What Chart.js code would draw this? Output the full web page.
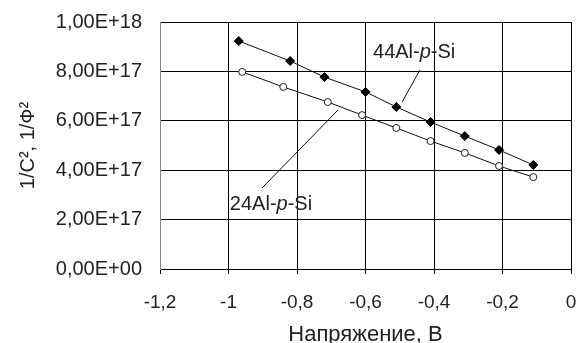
<!DOCTYPE html>
<html><head><meta charset="utf-8">
<script src="https://cdn.jsdelivr.net/npm/chart.js@4"></script>
<style>html,body{margin:0;padding:0;background:#fff}#wrap{width:579px;height:343px}</style>
</head><body><div id="wrap"><canvas id="c" width="579" height="343"></canvas></div>
<script>
const xTickLabels = ['-1,2','-1','-0,8','-0,6','-0,4','-0,2','0'];
const yTickLabels = ['0,00E+00','2,00E+17','4,00E+17','6,00E+17','8,00E+17','1,00E+18'];
const x44 = [-0.97,-0.82,-0.72,-0.60,-0.51,-0.41,-0.31,-0.21,-0.11];
const y44 = [9.23e17,8.42e17,7.77e17,7.17e17,6.56e17,5.95e17,5.38e17,4.82e17,4.21e17];
const x24 = [-0.96,-0.84,-0.71,-0.61,-0.51,-0.41,-0.31,-0.21,-0.11];
const y24 = [7.98e17,7.37e17,6.76e17,6.23e17,5.71e17,5.18e17,4.70e17,4.17e17,3.72e17];
const seriesNames = ['44Al-p-Si','24Al-p-Si'];
// annotations in data coords: text anchor + leader line
const labels = [
  {parts:['44Al-','p','-Si'], x:-0.578, y:0.854e18, line:[[-0.441,0.806e18],[-0.493,0.676e18]]},
  {parts:['24Al-','p','-Si'], x:-0.996, y:0.239e18, line:[[-0.902,0.328e18],[-0.68,0.644e18]]}
];
const FONT = '"Liberation Sans", Arial, sans-serif';

const annot = {
  id:'annot',
  afterDatasetsDraw(chart){
    const ctx = chart.ctx, xs = chart.scales.x, ys = chart.scales.y;
    ctx.save();
    ctx.strokeStyle = '#111'; ctx.lineWidth = 1;
    labels.forEach(l=>{
      ctx.beginPath();
      ctx.moveTo(xs.getPixelForValue(l.line[0][0]), ys.getPixelForValue(l.line[0][1]));
      ctx.lineTo(xs.getPixelForValue(l.line[1][0]), ys.getPixelForValue(l.line[1][1]));
      ctx.stroke();
      let px = xs.getPixelForValue(l.x), py = ys.getPixelForValue(l.y);
      ctx.fillStyle = '#222'; ctx.textBaseline = 'alphabetic'; ctx.textAlign='left';
      l.parts.forEach((p,i)=>{
        ctx.font = (i===1?'italic ':'') + '20px ' + FONT;
        ctx.fillText(p, px, py);
        px += ctx.measureText(p).width;
      });
    });
    ctx.restore();
  }
};

new Chart(document.getElementById('c'), {
  type:'scatter',
  data:{datasets:[
    {label:seriesNames[0], data:x44.map((x,i)=>({x, y:y44[i]})), showLine:true,
     borderColor:'#111', borderWidth:1, pointStyle:'rectRot', pointRadius:4.5,
     pointBackgroundColor:'#000', pointBorderColor:'#000'},
    {label:seriesNames[1], data:x24.map((x,i)=>({x, y:y24[i]})), showLine:true,
     borderColor:'#111', borderWidth:1, pointStyle:'circle', pointRadius:3.5,
     pointBackgroundColor:'#fff', pointBorderColor:'#222', pointBorderWidth:1}
  ]},
  options:{
    responsive:false, animation:false, devicePixelRatio:1,
    layout:{padding:{left:0,right:8,top:22,bottom:0}},
    plugins:{legend:{display:false}, tooltip:{enabled:false}},
    scales:{
      x:{type:'linear', min:-1.2, max:0,
        afterBuildTicks(s){ s.ticks = xTickLabels.map((t,i)=>({value:-1.2+0.2*i})); },
        afterFit(s){ s.height = 74; s.paddingLeft = 0; s.paddingRight = 0; },
        grid:{color:'#000', lineWidth:1, drawTicks:true, tickLength:5, tickColor:'#000'},
        border:{display:true, color:'#000'},
        ticks:{autoSkip:false, maxRotation:0, padding:17, color:'#222', font:{family:FONT, size:19},
          callback:(v,i)=>xTickLabels[i]},
        title:{display:true, text:'Напряжение, В', color:'#222', font:{family:FONT, size:22}, padding:{top:0,bottom:-5}}
      },
      y:{type:'linear', min:0, max:1e18,
        afterBuildTicks(s){ s.ticks = yTickLabels.map((t,i)=>({value:2e17*i})); },
        afterFit(s){ s.width = 160; s.paddingTop = 0; s.paddingBottom = 0; },
        grid:{color:'#000', lineWidth:1, drawTicks:false},
        border:{display:true, color:'#888'},
        ticks:{autoSkip:false, padding:18, color:'#222', font:{family:FONT, size:20},
          callback:(v,i)=>yTickLabels[i]},
        title:{display:true, text:'1/C², 1/Ф²', color:'#222', font:{family:FONT, size:20}, padding:{top:16,bottom:0}}
      }
    }
  },
  plugins:[annot]
});
</script></body></html>
